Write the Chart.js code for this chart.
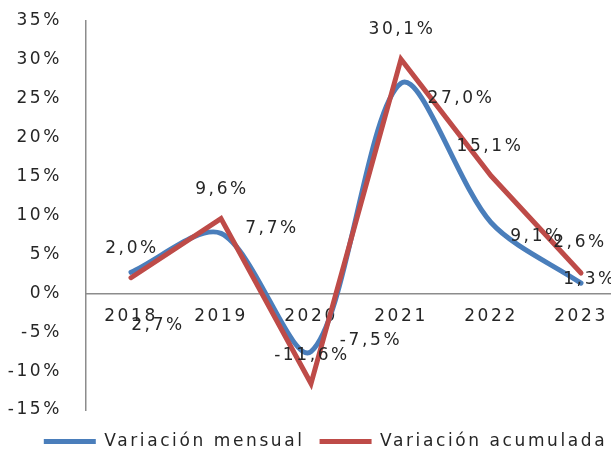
<!DOCTYPE html>
<html>
<head>
<meta charset="utf-8">
<script src="https://cdn.jsdelivr.net/npm/chart.js@4.4.1/dist/chart.umd.min.js"></script>
<style>
  html, body { margin: 0; padding: 0; background: #fff; overflow: hidden; }
  #wrap { position: relative; width: 651px; height: 460px; }
</style>
</head>
<body>
<div id="wrap"><canvas id="lineChart"></canvas></div>
<script>
// chart data
var years = ['2018', '2019', '2020', '2021', '2022', '2023'];
var mensual = [2.7, 7.7, -7.5, 27.0, 9.1, 1.3];
var acumulada = [2.0, 9.6, -11.6, 30.1, 15.1, 2.6];
var yMin = -15, yMax = 35, yStep = 5;

// where each value label sits, relative to its point (layout only)
var mensualLabelOffsets = [[26, 53], [50, -5], [59, -11], [59, 15], [45, 14], [8, -4]];
var acumuladaLabelOffsets = [[0, -29], [0, -29], [0, -28], [0, -30], [-2, -29], [-2, -30]];

var BLUE = '#4a7ebb';
var RED = '#be4b48';
var AXIS = '#8c8c8c';
var TEXT = '#262626';
var SPACING = '2.6px';

Chart.defaults.font.family = "'DejaVu Sans', sans-serif";
Chart.defaults.font.size = 17;
Chart.defaults.color = TEXT;

function pct(v) {
    return v.toFixed(1).replace('.', ',') + '%';
}

// wide look of the original font
var letterSpacing = {
    id: 'letterSpacing',
    beforeUpdate: function(chart) { chart.ctx.letterSpacing = SPACING; },
    beforeLayout: function(chart) { chart.ctx.letterSpacing = SPACING; },
    beforeDraw: function(chart) { chart.ctx.letterSpacing = SPACING; }
};

var valueLabels = {
    id: 'valueLabels',
    afterDatasetsDraw: function(chart) {
        var ctx = chart.ctx;
        var offsets = [mensualLabelOffsets, acumuladaLabelOffsets];
        ctx.save();
        ctx.letterSpacing = SPACING;
        ctx.font = "17px 'DejaVu Sans', sans-serif";
        ctx.fillStyle = TEXT;
        ctx.textAlign = 'center';
        ctx.textBaseline = 'middle';
        chart.data.datasets.forEach(function(ds, i) {
            var meta = chart.getDatasetMeta(i);
            meta.data.forEach(function(pt, j) {
                var off = offsets[i][j];
                ctx.fillText(pct(ds.data[j]), pt.x + off[0] + 1, pt.y + off[1]);
            });
        });
        ctx.restore();
    }
};

var ctx = document.getElementById('lineChart').getContext('2d');
var chart = new Chart(ctx, {
    type: 'line',
    data: {
        labels: years,
        datasets: [
            {
                label: 'Variación mensual',
                data: mensual,
                borderColor: BLUE,
                backgroundColor: BLUE,
                borderWidth: 5,
                borderCapStyle: 'round',
                tension: 0.3,
                pointRadius: 0,
                order: 1,
                xAxisID: 'x',
                yAxisID: 'y'
            },
            {
                label: 'Variación acumulada',
                data: acumulada,
                borderColor: RED,
                backgroundColor: RED,
                borderWidth: 5,
                borderCapStyle: 'round',
                borderJoinStyle: 'miter',
                tension: 0,
                pointRadius: 0,
                order: 0,
                xAxisID: 'x',
                yAxisID: 'y'
            }
        ]
    },
    options: {
        responsive: true,
        maintainAspectRatio: false,
        animation: false,
        events: [],
        layout: {
            padding: { top: 21, left: 0, right: 0, bottom: 0 }
        },
        plugins: {
            legend: {
                position: 'bottom',
                labels: {
                    usePointStyle: true,
                    pointStyle: 'line',
                    pointStyleWidth: 52,
                    padding: 15,
                    color: TEXT,
                    font: { size: 17 },
                    sort: function(a, b) { return a.datasetIndex - b.datasetIndex; }
                }
            },
            tooltip: { enabled: false }
        },
        scales: {
            x: {
                type: 'category',
                position: { y: 0 },
                offset: true,
                grid: { display: false },
                border: { display: true, color: AXIS, width: 1.5 },
                ticks: { padding: 5, color: TEXT, maxRotation: 0, autoSkip: false }
            },
            y: {
                type: 'linear',
                position: 'left',
                min: yMin,
                max: yMax,
                grid: { display: false },
                border: { display: true, color: AXIS, width: 1.5 },
                ticks: {
                    stepSize: yStep,
                    padding: 16,
                    color: TEXT,
                    callback: function(v) { return v + '%'; }
                },
                afterFit: function(s) {
                    s.width = 86;
                    s.paddingTop = 0;
                    s.paddingBottom = 0;
                }
            },
            padRight: {
                type: 'linear',
                position: 'right',
                grid: { display: false },
                border: { display: false },
                ticks: { display: false },
                afterFit: function(s) { s.width = 25; }
            },
            padBottom: {
                type: 'category',
                position: 'bottom',
                grid: { display: false },
                border: { display: false },
                ticks: { display: false },
                afterFit: function(s) { s.height = 8; }
            }
        }
    },
    plugins: [letterSpacing, valueLabels]
});
</script>
</body>
</html>
